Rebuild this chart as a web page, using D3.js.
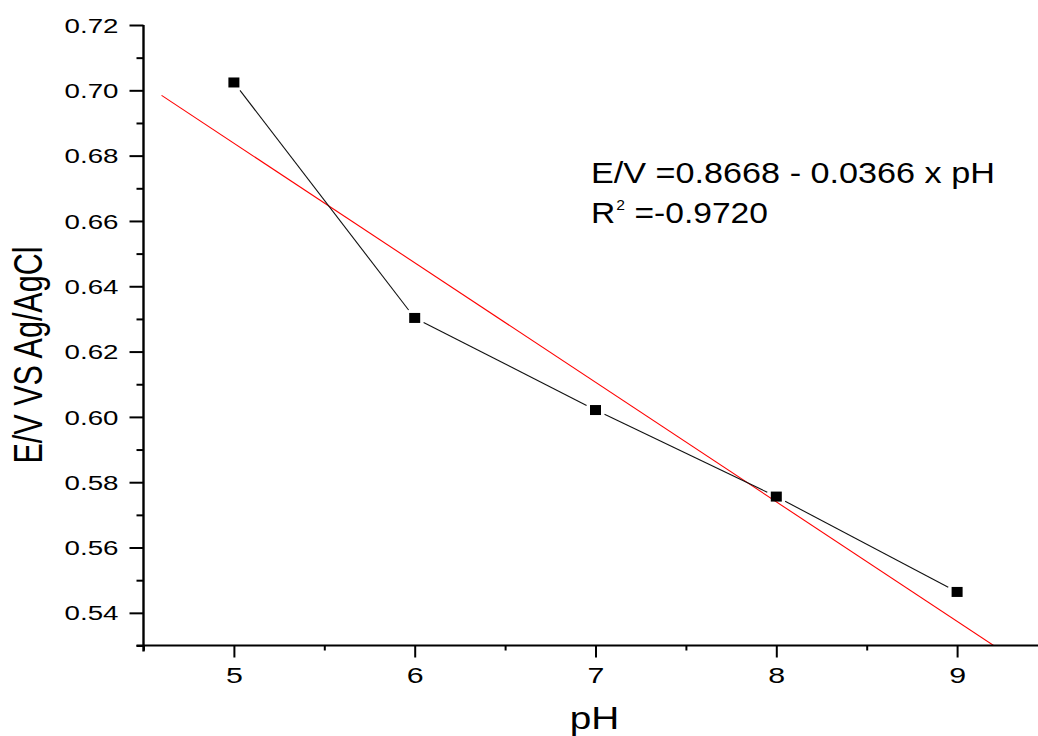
<!DOCTYPE html>
<html>
<head>
<meta charset="utf-8">
<script src="https://cdn.jsdelivr.net/npm/d3@7"></script>
<style>
  html, body { margin: 0; padding: 0; background: #fff; }
  svg { display: block; font-family: "Liberation Sans", Arial, sans-serif; }
</style>
</head>
<body>
<svg id="chart" width="1038" height="736"></svg>
<script>
// ---- data ----
const pH = [5, 6, 7, 8, 9];
const potential = [0.7024, 0.6303, 0.6021, 0.5756, 0.5464];
const fitIntercept = 0.8668;
const fitSlope = -0.0366;
const fitRange = [4.6, 9.5];
const xMajorTicks = [5, 6, 7, 8, 9];
const xMinorTicks = [4.5, 5.5, 6.5, 7.5, 8.5, 9.5];
const yMajorTicks = [0.54, 0.56, 0.58, 0.60, 0.62, 0.64, 0.66, 0.68, 0.70, 0.72];
const yMinorTicks = [0.53, 0.55, 0.57, 0.59, 0.61, 0.63, 0.65, 0.67, 0.69, 0.71];
const xTitle = "pH";
const yTitle = "E/V VS Ag/AgCl";
const eqLine1 = "E/V =0.8668 - 0.0366 x pH";
const eqLine2 = ["R", "2", " =-0.9720"];

// ---- layout ----
const svg = d3.select("#chart");
const x = d3.scaleLinear().domain([4.5, 9.5]).range([143.5, 1047.5]);
const y = d3.scaleLinear().domain([0.53, 0.72]).range([645.5, 25]);

// clip for plot area
svg.append("clipPath").attr("id", "plotclip")
  .append("rect").attr("x", x(4.5)).attr("y", 0)
  .attr("width", 1038 - x(4.5)).attr("height", y(0.53));

// fit line (red)
svg.append("path")
  .attr("clip-path", "url(#plotclip)")
  .attr("d", d3.line().x(d => x(d)).y(d => y(fitIntercept + fitSlope * d))(fitRange))
  .attr("fill", "none").attr("stroke", "#ff0000").attr("stroke-width", 1.1);

// data connecting line with gaps near markers
const gap = 10;
const pts = pH.map((v, i) => [x(v), y(potential[i])]);
for (let i = 0; i < pts.length - 1; i++) {
  const [x0, y0] = pts[i], [x1, y1] = pts[i + 1];
  const dx = x1 - x0, dy = y1 - y0, L = Math.hypot(dx, dy);
  const ux = dx / L, uy = dy / L;
  svg.append("line")
    .attr("x1", x0 + ux * gap).attr("y1", y0 + uy * gap)
    .attr("x2", x1 - ux * gap).attr("y2", y1 - uy * gap)
    .attr("stroke", "#111").attr("stroke-width", 1.1);
}

// markers
svg.selectAll("rect.marker").data(pH).enter().append("rect")
  .attr("class", "marker")
  .attr("x", d => x(d) - 5.5)
  .attr("y", (d, i) => y(potential[i]) - 5)
  .attr("width", 11).attr("height", 10)
  .attr("fill", "#000");

// ---- axes ----
const axisColor = "#000";
// y axis
const gY = svg.append("g").attr("transform", `translate(${x(4.5)},0)`);
gY.call(d3.axisLeft(y).tickValues(yMajorTicks).tickSize(14).tickFormat(d3.format(".2f")));
gY.append("g").call(d3.axisLeft(y).tickValues(yMinorTicks).tickSize(7).tickFormat(""));
gY.selectAll(".domain").remove();
gY.selectAll("line").attr("stroke", axisColor).attr("stroke-width", 2);
gY.append("line").attr("x1", 0).attr("x2", 0).attr("y1", y(0.72)).attr("y2", y(0.53) + 6)
  .attr("stroke", axisColor).attr("stroke-width", 2.4);
gY.selectAll("text")
  .attr("x", null).attr("dy", "0.34em")
  .attr("text-anchor", "end")
  .attr("font-size", 21)
  .attr("font-family", "Liberation Sans, Arial, sans-serif")
  .attr("fill", "#000")
  .attr("transform", "translate(-25,0) scale(1.32,1)");

// x axis
const gX = svg.append("g").attr("transform", `translate(0,${y(0.53)})`);
gX.call(d3.axisBottom(x).tickValues(xMajorTicks).tickSize(12).tickFormat(d3.format("d")));
gX.append("g").call(d3.axisBottom(x).tickValues(xMinorTicks).tickSize(5).tickFormat(""));
gX.selectAll(".domain").remove();
gX.selectAll("line").attr("stroke", axisColor).attr("stroke-width", 2);
gX.append("line").attr("x1", x(4.5) - 7).attr("x2", 1038).attr("y1", 0).attr("y2", 0)
  .attr("stroke", axisColor).attr("stroke-width", 2);
gX.selectAll("text")
  .attr("y", null).attr("dy", null)
  .attr("text-anchor", "middle")
  .attr("font-size", 22)
  .attr("font-family", "Liberation Sans, Arial, sans-serif")
  .attr("fill", "#000")
  .attr("transform", "translate(0,37.5) scale(1.38,1)");

// axis titles
svg.append("text")
  .attr("transform", `translate(594.5,729) scale(1.25,1)`)
  .attr("text-anchor", "middle")
  .attr("font-size", 31)
  .attr("fill", "#000")
  .text(xTitle);

svg.append("text")
  .attr("transform", `translate(41.5,355) rotate(-90) scale(1,1.32)`)
  .attr("text-anchor", "middle")
  .attr("font-size", 30.5)
  .attr("fill", "#000")
  .text(yTitle);

// equation annotation
svg.append("text")
  .attr("transform", `translate(591,183) scale(1.14,1)`)
  .attr("font-size", 30)
  .attr("fill", "#000")
  .text(eqLine1);

const t2 = svg.append("text")
  .attr("transform", `translate(591,223) scale(1.12,1)`)
  .attr("font-size", 30)
  .attr("fill", "#000");
t2.append("tspan").text(eqLine2[0]);
t2.append("tspan").attr("font-size", 14).attr("dy", -13).attr("dx", 1).text(eqLine2[1]);
t2.append("tspan").attr("font-size", 30).attr("dy", 13).text(eqLine2[2]);
</script>
</body>
</html>
